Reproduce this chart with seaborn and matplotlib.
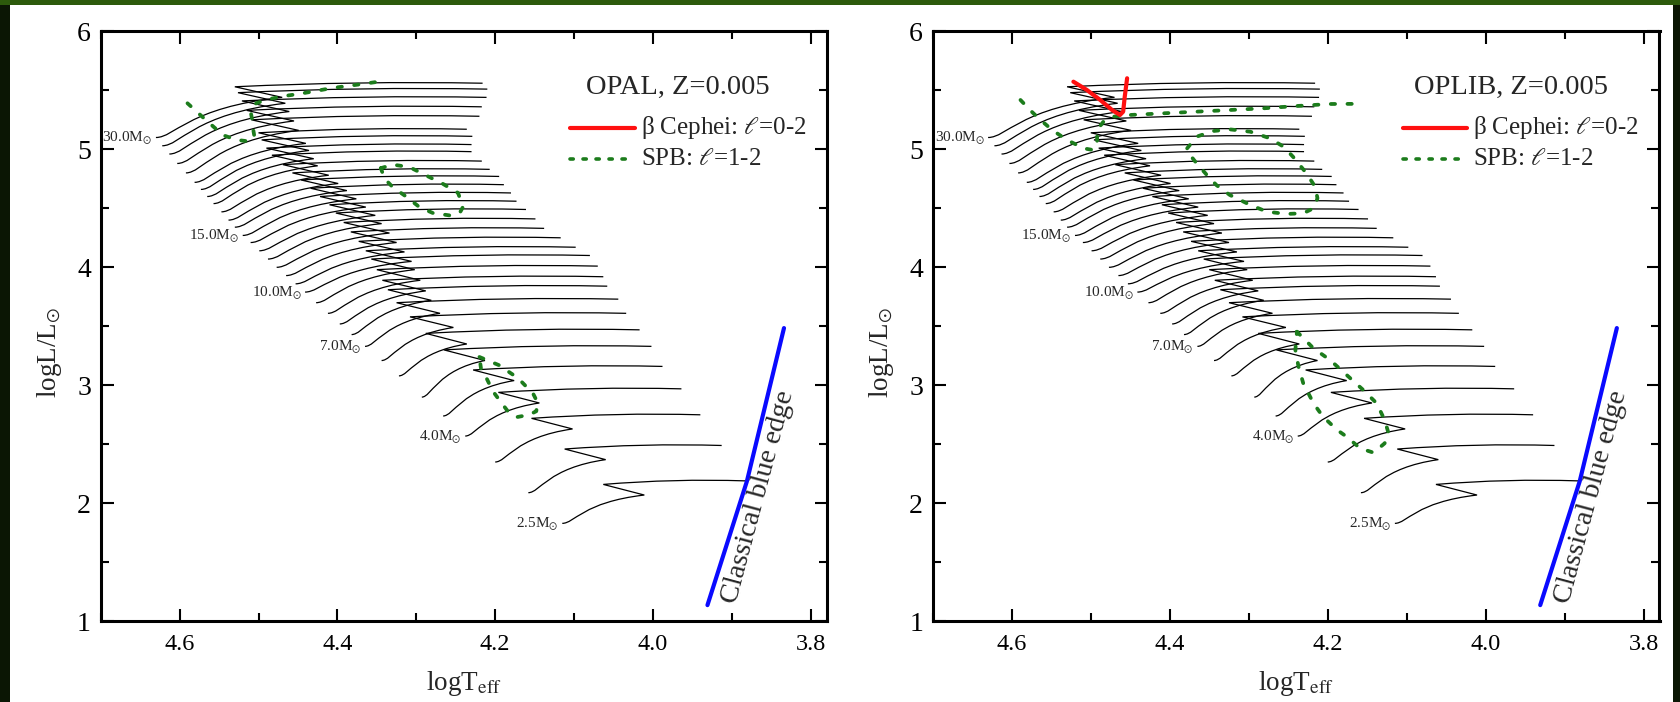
import numpy as np
import pandas as pd
import matplotlib
matplotlib.use("Agg")
import matplotlib.pyplot as plt
import seaborn as sns
from matplotlib.path import Path
from matplotlib.patches import PathPatch, Rectangle

# ---------------- data ----------------
# evolutionary tracks: ZAMS start, end of main sequence (TAMS), hook, end of track
zams_logT = [4.115, 4.158, 4.200, 4.238, 4.266, 4.293, 4.322, 4.344, 4.365, 4.382, 4.397,
             4.412, 4.427, 4.441, 4.453, 4.465, 4.477, 4.488, 4.499, 4.510, 4.520, 4.530,
             4.538, 4.547, 4.557, 4.565, 4.573, 4.581, 4.592, 4.603, 4.613, 4.622, 4.630]
zams_logL = [1.83, 2.09, 2.35, 2.57, 2.74, 2.90, 3.08, 3.21, 3.33, 3.43, 3.52,
             3.61, 3.70, 3.79, 3.86, 3.93, 4.00, 4.07, 4.14, 4.21, 4.27, 4.34,
             4.40, 4.47, 4.54, 4.60, 4.66, 4.72, 4.80, 4.88, 4.96, 5.03, 5.10]
tams_logT = [4.011, 4.060, 4.102, 4.144, 4.176, 4.213, 4.236, 4.253, 4.270, 4.281, 4.288,
             4.295, 4.302, 4.306, 4.315, 4.325, 4.334, 4.344, 4.352, 4.364, 4.376, 4.388,
             4.399, 4.411, 4.425, 4.430, 4.436, 4.440, 4.449, 4.455, 4.461, 4.466, 4.470]
tams_logL = [2.07, 2.37, 2.63, 2.85, 3.04, 3.21, 3.35, 3.49, 3.61, 3.72, 3.80,
             3.89, 3.98, 4.05, 4.13, 4.21, 4.29, 4.37, 4.44, 4.51, 4.58, 4.65,
             4.71, 4.78, 4.86, 4.92, 4.99, 5.05, 5.16, 5.24, 5.32, 5.39, 5.44]
hook_logT = [4.063, 4.112, 4.154, 4.196, 4.228, 4.265, 4.288, 4.308, 4.325, 4.336, 4.343,
             4.350, 4.357, 4.364, 4.373, 4.383, 4.392, 4.402, 4.410, 4.422, 4.434, 4.446,
             4.457, 4.469, 4.483, 4.490, 4.496, 4.500, 4.509, 4.515, 4.521, 4.526, 4.530]
hook_logL = [2.16, 2.46, 2.72, 2.94, 3.13, 3.30, 3.44, 3.58, 3.70, 3.81, 3.89,
             3.98, 4.07, 4.14, 4.22, 4.30, 4.38, 4.46, 4.53, 4.60, 4.67, 4.74,
             4.80, 4.87, 4.95, 5.01, 5.08, 5.14, 5.25, 5.33, 5.41, 5.48, 5.53]
end_logT = [3.883, 3.913, 3.940, 3.964, 3.988, 4.002, 4.017, 4.034, 4.044, 4.058, 4.063,
            4.070, 4.080, 4.098, 4.117, 4.138, 4.149, 4.161, 4.173, 4.180, 4.189, 4.195,
            4.207, 4.217, 4.230, 4.230, 4.229, 4.236, 4.220, 4.217, 4.211, 4.210, 4.216]
end_logL = [2.19, 2.49, 2.75, 2.97, 3.16, 3.33, 3.47, 3.61, 3.73, 3.84, 3.92,
            4.01, 4.10, 4.17, 4.25, 4.33, 4.41, 4.49, 4.56, 4.63, 4.70, 4.77,
            4.83, 4.90, 4.98, 5.04, 5.11, 5.17, 5.28, 5.36, 5.44, 5.51, 5.56]
label_track_index = [0, 3, 8, 13, 20, 32]
label_mass = ["2.5", "4.0", "7.0", "10.0", "15.0", "30.0"]

# classical blue edge
blue_logT = [3.931, 3.881, 3.834]
blue_logL = [1.137, 2.187, 3.485]

# OPAL instability domains (SPB, l=1-2)
opal_spb1_logT = [4.590, 4.567, 4.545, 4.528, 4.516, 4.505, 4.507, 4.508, 4.510, 4.503,
                  4.490, 4.469, 4.448, 4.406, 4.372, 4.351]
opal_spb1_logL = [5.39, 5.25, 5.12, 5.08, 5.07, 5.10, 5.18, 5.25, 5.32, 5.39,
                  5.42, 5.45, 5.47, 5.52, 5.55, 5.57]
opal_spb2_logT = [4.345, 4.330, 4.309, 4.288, 4.267, 4.247, 4.241, 4.245, 4.258, 4.279,
                  4.296, 4.313, 4.330, 4.340]
opal_spb2_logL = [4.84, 4.87, 4.85, 4.78, 4.71, 4.63, 4.51, 4.46, 4.44, 4.46,
                  4.51, 4.60, 4.68, 4.75]
opal_spb3_logT = [4.220, 4.195, 4.171, 4.152, 4.146, 4.148, 4.157, 4.173, 4.184, 4.192,
                  4.203, 4.211, 4.218]
opal_spb3_logL = [3.24, 3.17, 3.06, 2.93, 2.85, 2.78, 2.75, 2.73, 2.78, 2.85,
                  2.95, 3.06, 3.14]

# OPLIB instability domains
oplib_bcep_logT = [4.522, 4.505, 4.488, 4.473, 4.463, 4.459, 4.457, 4.454]
oplib_bcep_logL = [5.573, 5.503, 5.418, 5.333, 5.291, 5.319, 5.446, 5.602]
oplib_spb1_logT = [4.589, 4.577, 4.566, 4.549, 4.530, 4.509, 4.497, 4.492, 4.492, 4.484,
                   4.473, 4.450, 4.408, 4.366, 4.324, 4.282, 4.239, 4.197, 4.169]
oplib_spb1_logL = [5.418, 5.333, 5.263, 5.164, 5.079, 5.008, 4.994, 5.051, 5.164, 5.234,
                   5.276, 5.291, 5.305, 5.319, 5.333, 5.347, 5.367, 5.384, 5.385]
oplib_spb2_logT = [4.378, 4.366, 4.345, 4.324, 4.298, 4.273, 4.256, 4.244, 4.227, 4.216,
                   4.213, 4.218, 4.231, 4.252, 4.277, 4.298, 4.324, 4.341, 4.353, 4.366, 4.376]
oplib_spb2_logL = [5.008, 5.107, 5.155, 5.169, 5.149, 5.093, 5.022, 4.937, 4.797, 4.683,
                   4.585, 4.500, 4.458, 4.452, 4.471, 4.528, 4.613, 4.697, 4.782, 4.881, 4.966]
oplib_spb3_logT = [4.239, 4.218, 4.197, 4.176, 4.155, 4.138, 4.128, 4.123, 4.128, 4.142,
                   4.159, 4.176, 4.188, 4.206, 4.218, 4.231, 4.237, 4.241]
oplib_spb3_logL = [3.454, 3.313, 3.214, 3.087, 2.960, 2.847, 2.706, 2.593, 2.508, 2.429,
                   2.466, 2.564, 2.621, 2.734, 2.847, 3.017, 3.158, 3.299]

x_major = [4.6, 4.4, 4.2, 4.0, 3.8]
x_tick_labels = ["4.6", "4.4", "4.2", "4.0", "3.8"]
x_minor = [4.7, 4.5, 4.3, 4.1, 3.9]
y_major = [1, 2, 3, 4, 5, 6]
y_tick_labels = ["1", "2", "3", "4", "5", "6"]
y_minor = [1.5, 2.5, 3.5, 4.5, 5.5]

panel_titles = ["OPAL, Z=0.005", "OPLIB, Z=0.005"]
legend_labels = [r"β Cephei: $\ell$=0-2", r"SPB: $\ell$=1-2"]

# ---------------- style ----------------
sns.set_style("ticks")
plt.rcParams["font.family"] = ["Liberation Serif", "DejaVu Serif"]
plt.rcParams["mathtext.fontset"] = "stix"

GREEN = "#1c7c1c"
RED = "#ff1010"
BLUE = "#0a0aff"

fig = plt.figure(figsize=(16.81, 7.02), dpi=100)
fig.patch.set_facecolor("#0b1604")
fig.add_artist(Rectangle((10 / 1681, 0), 1663 / 1681, 697.5 / 702, transform=fig.transFigure,
                         facecolor="white", edgecolor="none", zorder=-5))
fig.add_artist(Rectangle((0, 697.5 / 702), 1, 4.5 / 702, transform=fig.transFigure,
                         facecolor="#2d5a0c", edgecolor="none", zorder=-5))

ax1 = fig.add_axes([100.7 / 1681, 80.7 / 702, 725.9 / 1681, 590 / 702])
ax2 = fig.add_axes([932.8 / 1681, 80.7 / 702, 726.7 / 1681, 590 / 702])


def draw_tracks(ax):
    for i in range(len(zams_logT)):
        zT, zL = zams_logT[i], zams_logL[i]
        tT, tL = tams_logT[i], tams_logL[i]
        hT, hL = hook_logT[i], hook_logL[i]
        eT, eL = end_logT[i], end_logL[i]
        dT, dL = zT - tT, tL - zL
        verts = [(zT, zL), (zT - 0.15 * dT, zL), (zT - 0.25 * dT, zL + 0.75 * dL), (tT, tL),
                 (hT, hL), (0.5 * (hT + eT), eL + 0.02), (eT, eL)]
        codes = [Path.MOVETO, Path.CURVE4, Path.CURVE4, Path.CURVE4,
                 Path.LINETO, Path.CURVE3, Path.CURVE3]
        ax.add_patch(PathPatch(Path(verts, codes), facecolor="none", edgecolor="black",
                               lw=0.9, zorder=2))
    for idx, m in zip(label_track_index, label_mass):
        ax.annotate(m + r"M$_{\odot}$", xy=(zams_logT[idx], zams_logL[idx]),
                    xytext=(-2.5, -1), textcoords="offset points",
                    ha="right", va="center", fontsize=11, zorder=3)


def draw_contour(ax, xs, ys, color, closed, dashed=True, lw=2.7):
    xs = list(xs); ys = list(ys)
    if closed:
        xs = xs + xs[:1]; ys = ys + ys[:1]
    df = pd.DataFrame({"logT": xs, "logL": ys})
    sns.lineplot(data=df, x="logT", y="logL", sort=False, estimator=None, ax=ax,
                 color=color, lw=lw, zorder=5, legend=False)
    ln = ax.lines[-1]
    if dashed:
        ln.set_dashes([1.15, 3.3])
        ln.set_dash_capstyle("round")
    else:
        ln.set_solid_capstyle("round")
        ln.set_solid_joinstyle("round")


def draw_blue(ax):
    df = pd.DataFrame({"logT": blue_logT, "logL": blue_logL})
    sns.lineplot(data=df, x="logT", y="logL", sort=False, estimator=None, ax=ax,
                 color=BLUE, lw=3.0, zorder=6, legend=False)
    ax.lines[-1].set_solid_capstyle("round")
    ax.text(3.8664, 2.054, "Classical blue edge", rotation=75, ha="center", va="center",
            fontsize=20.5, zorder=7)


def style_axes(ax, title):
    ax.set_xlim(4.70, 3.78)
    ax.set_ylim(1, 6)
    ax.set_xticks(x_major)
    ax.set_xticklabels(x_tick_labels)
    ax.set_xticks(x_minor, minor=True)
    ax.set_yticks(y_major)
    ax.set_yticklabels(y_tick_labels)
    ax.set_yticks(y_minor, minor=True)
    ax.tick_params(which="both", direction="in", top=True, right=True, width=1.5,
                   color="black", labelcolor="black")
    ax.tick_params(which="major", length=9)
    ax.tick_params(which="minor", length=5.5)
    ax.tick_params(axis="x", labelsize=17.5, pad=9)
    ax.tick_params(axis="y", labelsize=20, pad=7)
    for s in ax.spines.values():
        s.set_linewidth(2.2)
        s.set_color("black")
        s.set_visible(True)
    ax.set_facecolor("white")
    ax.set_xlabel(r"logT$_{\rm eff}$", fontsize=19.5)
    ax.xaxis.set_label_coords(0.5, -0.081)
    ax.set_ylabel(r"logL/L$_{\odot}$", fontsize=19.5)
    ax.yaxis.set_label_coords(-0.05, 0.456)
    ax.text(0.795, 0.905, title, transform=ax.transAxes, ha="center", va="center",
            fontsize=20.5)
    # legend glyphs
    ax.plot([0.647, 0.7357], [0.8368, 0.8368], transform=ax.transAxes, color=RED,
            lw=3.0, solid_capstyle="round")
    g, = ax.plot([0.647, 0.7357], [0.7837, 0.7837], transform=ax.transAxes, color=GREEN,
                 lw=2.6)
    g.set_dashes([0.9, 2.7])
    g.set_dash_capstyle("round")
    ax.text(0.744, 0.8368, legend_labels[0], transform=ax.transAxes, ha="left",
            va="center", fontsize=18)
    ax.text(0.744, 0.7837, legend_labels[1], transform=ax.transAxes, ha="left",
            va="center", fontsize=18)


for ax in (ax1, ax2):
    draw_tracks(ax)
    draw_blue(ax)

draw_contour(ax1, opal_spb1_logT, opal_spb1_logL, GREEN, closed=False)
draw_contour(ax1, opal_spb2_logT, opal_spb2_logL, GREEN, closed=True)
draw_contour(ax1, opal_spb3_logT, opal_spb3_logL, GREEN, closed=True)

draw_contour(ax2, oplib_spb1_logT, oplib_spb1_logL, GREEN, closed=False)
draw_contour(ax2, oplib_spb2_logT, oplib_spb2_logL, GREEN, closed=True)
draw_contour(ax2, oplib_spb3_logT, oplib_spb3_logL, GREEN, closed=True)
draw_contour(ax2, oplib_bcep_logT, oplib_bcep_logL, RED, closed=False, dashed=False, lw=3.0)

for ax, title in [(ax1, panel_titles[0]), (ax2, panel_titles[1])]:
    style_axes(ax, title)

fig.savefig("out.png", dpi=100, facecolor=fig.get_facecolor())
